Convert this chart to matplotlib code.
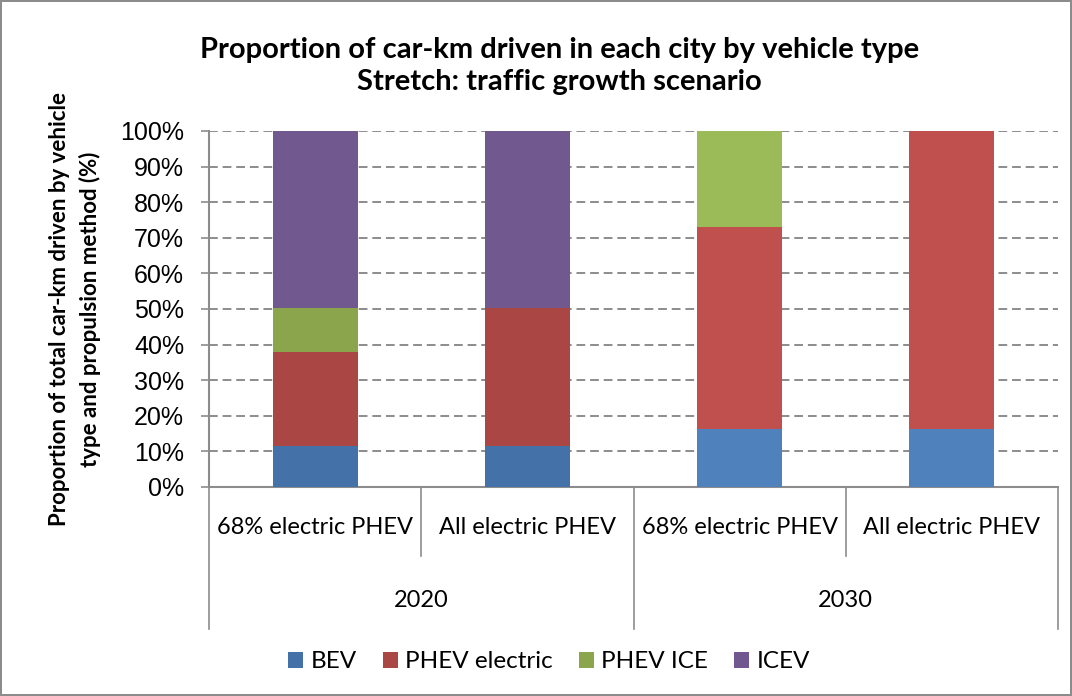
import numpy as np
import matplotlib.pyplot as plt

# values (% of car-km)
categories = ['68% electric PHEV', 'All electric PHEV', '68% electric PHEV', 'All electric PHEV']
years = ['2020', '2030']
series = ['BEV', 'PHEV electric', 'PHEV ICE', 'ICEV']
bev = [11.5, 11.5, 16.3, 16.3]
phev_el = [26.4, 38.8, 56.7, 83.7]
phev_ice = [12.4, 0.0, 27.0, 0.0]
icev = [49.7, 49.7, 0.0, 0.0]

# 2020 bars use darker shades than 2030
colors = {
    'BEV': ['#4472A8', '#4472A8', '#4F81BD', '#4F81BD'],
    'PHEV electric': ['#AA4744', '#AA4744', '#C0504D', '#C0504D'],
    'PHEV ICE': ['#8BA54D', '#8BA54D', '#9BBB59', '#9BBB59'],
    'ICEV': ['#71588F', '#71588F', '#8064A2', '#8064A2'],
}

fig = plt.figure(figsize=(10.72, 6.96), dpi=100)
fig.patch.set_edgecolor('#8c8c8c')
fig.patch.set_linewidth(1.5)
ax = fig.add_axes([0.195, 0.3003, 0.792, 0.5115])

x = np.arange(len(categories))
bottom = np.zeros(len(categories))
for name, vals in zip(series, [bev, phev_el, phev_ice, icev]):
    ax.bar(x, vals, 0.4, bottom=bottom, color=colors[name], label=name, zorder=3)
    bottom += np.array(vals)

ax.set_xlim(-0.5, 3.5)
ax.set_ylim(0, 100)
ax.set_yticks(np.arange(0, 101, 10))
ax.set_yticklabels([f'{v}%' for v in range(0, 101, 10)], family='Liberation Sans', fontsize=18)
ax.yaxis.grid(True, linestyle=(0, (4.5, 2.5)), color='#8c8c8c', linewidth=1.4, zorder=0)
ax.set_xticks([])
ax.tick_params(axis='y', length=6, color='#8c8c8c', width=1.2, pad=12)
for s in ['top', 'right']:
    ax.spines[s].set_visible(False)
for s in ['left', 'bottom']:
    ax.spines[s].set_color('#8c8c8c')
    ax.spines[s].set_linewidth(1.5)

# two-level category axis
tr = ax.get_xaxis_transform()
for xs in [-0.5, 1.5, 3.5]:
    ax.plot([xs, xs], [0, -0.40], transform=tr, color='#8c8c8c', lw=1.2, clip_on=False)
for xs in [0.5, 2.5]:
    ax.plot([xs, xs], [0, -0.194], transform=tr, color='#8c8c8c', lw=1.2, clip_on=False)
for xi, lab in zip(x, categories):
    ax.text(xi, -0.115, lab, transform=tr, ha='center', va='center', family='Lato', fontsize=17)
for i, yr in enumerate(years):
    ax.text(2 * i + 0.5, -0.32, yr, transform=tr, ha='center', va='center', family='Lato', fontsize=17)

ax.set_ylabel('Proportion of total car-km driven by vehicle\ntype and propulsion method (%)',
              family='Lato', fontweight='bold', fontsize=16, labelpad=14, linespacing=1.45)

fig.text(0.522, 0.905, 'Proportion of car-km driven in each city by vehicle type\nStretch: traffic growth scenario',
         ha='center', va='center', family='Lato', fontweight='bold', fontsize=21, linespacing=1.3)

fig.legend(loc='center', bbox_to_anchor=(0.512, 0.049), ncol=4, frameon=False,
           prop={'family': 'Lato', 'size': 17.5}, handlelength=0.62, handleheight=0.62,
           columnspacing=1.07, handletextpad=0.3)

fig.savefig('out.png', dpi=100)
